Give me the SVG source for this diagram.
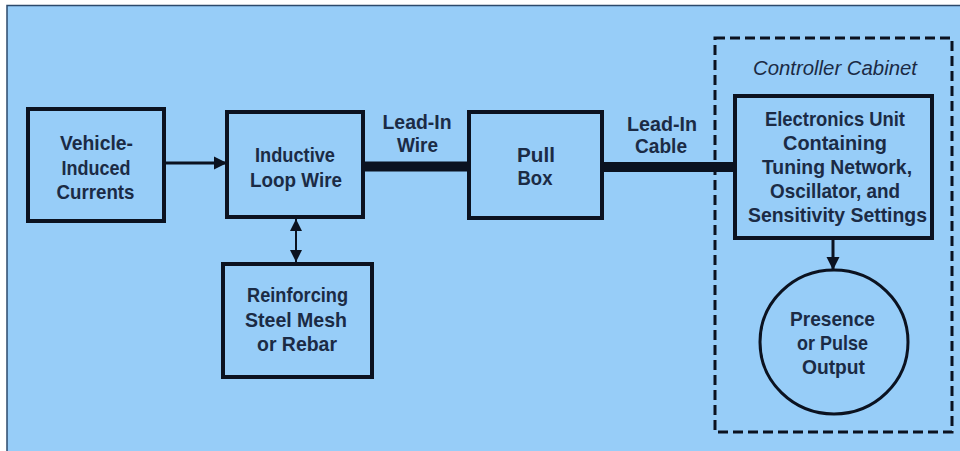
<svg xmlns="http://www.w3.org/2000/svg" width="960" height="451" viewBox="0 0 960 451">
<defs>
<style>
.bg{fill:#97CDF8}
.box{fill:none;stroke:#0b1220;stroke-width:4}
.t{font-family:"Liberation Sans",Arial,sans-serif;font-size:21px;font-weight:bold;fill:#1b2b45;text-anchor:middle}
.ti{font-family:"Liberation Sans",Arial,sans-serif;font-size:20px;font-style:italic;fill:#1b2b45;text-anchor:middle}
.ln{stroke:#0b1220;fill:none}
</style>
<marker id="ah" viewBox="0 0 10 10" refX="10" refY="5" markerWidth="4.5" markerHeight="4.5" orient="auto-start-reverse" markerUnits="strokeWidth">
<path d="M0,0 L10,5 L0,10 z" fill="#0b1220"/>
</marker>
<marker id="ah2" viewBox="0 0 10 10" refX="10" refY="5" markerWidth="6" markerHeight="6" orient="auto-start-reverse" markerUnits="strokeWidth">
<path d="M0,0 L10,5 L0,10 z" fill="#0b1220"/>
</marker>
</defs>
<rect x="0" y="0" width="960" height="451" fill="#ffffff"/>
<rect class="bg" x="7" y="5" width="953" height="446"/>
<path d="M7,451 V5.5 H960" stroke="#2c4a6b" stroke-width="1.5" fill="none"/>

<g id="connectors">
<line class="ln" x1="165" y1="163" x2="227" y2="163" stroke-width="3" marker-end="url(#ah)"/>
<line class="ln" x1="363" y1="166.5" x2="469" y2="166.5" stroke-width="10"/>
<line class="ln" x1="602" y1="167" x2="735" y2="167" stroke-width="10"/>
<line class="ln" x1="296" y1="219" x2="296" y2="262" stroke-width="2" marker-start="url(#ah2)" marker-end="url(#ah2)"/>
<line class="ln" x1="833" y1="240" x2="833" y2="270" stroke-width="3" marker-end="url(#ah)"/>
</g>

<g id="cabinet">
<rect x="715" y="38" width="237" height="394" fill="none" stroke="#0b1220" stroke-width="3" stroke-dasharray="10,5"/>
<text class="ti" x="835" y="75" textLength="164" lengthAdjust="spacingAndGlyphs">Controller Cabinet</text>
</g>

<g id="vehicle">
<rect class="box" x="28" y="109" width="136" height="112"/>
<text class="t" x="96.5" y="150" textLength="73" lengthAdjust="spacingAndGlyphs">Vehicle-</text>
<text class="t" x="96" y="175" textLength="69" lengthAdjust="spacingAndGlyphs">Induced</text>
<text class="t" x="95.5" y="199" textLength="78" lengthAdjust="spacingAndGlyphs">Currents</text>
</g>

<g id="loop">
<rect class="box" x="227" y="112" width="136" height="105"/>
<text class="t" x="295" y="162" textLength="80" lengthAdjust="spacingAndGlyphs">Inductive</text>
<text class="t" x="296" y="187" textLength="92" lengthAdjust="spacingAndGlyphs">Loop Wire</text>
</g>

<g id="leadin-wire-label">
<text class="t" x="417" y="129" textLength="69" lengthAdjust="spacingAndGlyphs">Lead-In</text>
<text class="t" x="417.5" y="152" textLength="41" lengthAdjust="spacingAndGlyphs">Wire</text>
</g>

<g id="pullbox">
<rect class="box" x="469" y="112" width="133" height="106"/>
<text class="t" x="536" y="162" textLength="38" lengthAdjust="spacingAndGlyphs">Pull</text>
<text class="t" x="535" y="185" textLength="35" lengthAdjust="spacingAndGlyphs">Box</text>
</g>

<g id="leadin-cable-label">
<text class="t" x="662" y="131" textLength="70" lengthAdjust="spacingAndGlyphs">Lead-In</text>
<text class="t" x="661" y="153" textLength="52" lengthAdjust="spacingAndGlyphs">Cable</text>
</g>

<g id="electronics">
<rect class="box" x="735" y="96" width="197" height="142"/>
<text class="t" x="835" y="126" textLength="140" lengthAdjust="spacingAndGlyphs">Electronics Unit</text>
<text class="t" x="835" y="150" textLength="104" lengthAdjust="spacingAndGlyphs">Containing</text>
<text class="t" x="837" y="174" textLength="150" lengthAdjust="spacingAndGlyphs">Tuning Network,</text>
<text class="t" x="835" y="198" textLength="130" lengthAdjust="spacingAndGlyphs">Oscillator, and</text>
<text class="t" x="837.5" y="222" textLength="179" lengthAdjust="spacingAndGlyphs">Sensitivity Settings</text>
</g>

<g id="reinforcing">
<rect class="box" x="223" y="264" width="149" height="113"/>
<text class="t" x="297.5" y="302" textLength="101" lengthAdjust="spacingAndGlyphs">Reinforcing</text>
<text class="t" x="296" y="327" textLength="102" lengthAdjust="spacingAndGlyphs">Steel Mesh</text>
<text class="t" x="297" y="351" textLength="80" lengthAdjust="spacingAndGlyphs">or Rebar</text>
</g>

<g id="output">
<ellipse cx="834" cy="342" rx="74" ry="72" fill="none" stroke="#0b1220" stroke-width="3"/>
<text class="t" x="832.5" y="326" textLength="85" lengthAdjust="spacingAndGlyphs">Presence</text>
<text class="t" x="832.5" y="350" textLength="71" lengthAdjust="spacingAndGlyphs">or Pulse</text>
<text class="t" x="833.5" y="374" textLength="63" lengthAdjust="spacingAndGlyphs">Output</text>
</g>
</svg>
